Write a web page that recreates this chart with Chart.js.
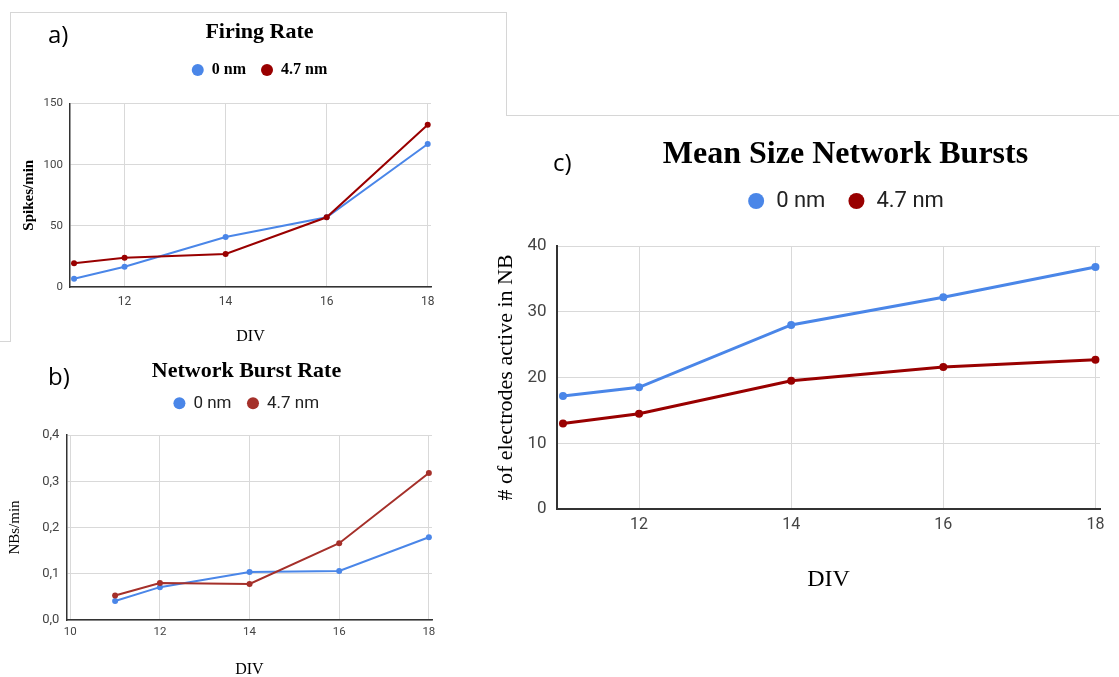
<!DOCTYPE html>
<html>
<head>
<meta charset="utf-8">
<script src="https://cdn.jsdelivr.net/npm/chart.js@4.4.1/dist/chart.umd.min.js"></script>
<style>
html, body { margin: 0; padding: 0; background: #fff; overflow: hidden; width: 1119px; height: 677px; }
canvas { position: absolute; }
.lbl { position: absolute; font-family: 'Open Sans', sans-serif; font-size: 24px; line-height: 24px; color: #000; }
.ln { position: absolute; background: #d6d6d6; }
</style>
</head>
<body>
<div class="ln" style="left:10px;top:12px;width:497px;height:1px"></div>
<div class="ln" style="left:10px;top:12px;width:1px;height:330px"></div>
<div class="ln" style="left:0px;top:341px;width:11px;height:1px"></div>
<div class="ln" style="left:506px;top:12px;width:1px;height:104px"></div>
<div class="ln" style="left:506px;top:115px;width:613px;height:1px"></div>

<canvas id="chartA" width="519" height="350" style="left:0px;top:0px"></canvas>
<canvas id="chartB" width="493" height="350" style="left:0px;top:340px"></canvas>
<canvas id="chartC" width="731" height="500" style="left:480px;top:100px"></canvas>

<div class="lbl" style="left:48px;top:22px">a)</div>
<div class="lbl" style="left:48px;top:364px">b)</div>
<div class="lbl" style="left:553px;top:150px">c)</div>

<script>
// ---------- data ----------
const divDays = [11, 12, 14, 16, 18];
const seriesNames = ['0 nm', '4.7 nm'];

const firingRate0  = [6.8, 16.6, 40.9, 57.0, 116.9];
const firingRate47 = [19.4, 24.0, 27.0, 57.0, 132.7];

const burstRate0  = [0.041, 0.071, 0.104, 0.106, 0.179];
const burstRate47 = [0.053, 0.080, 0.078, 0.166, 0.318];

const burstSize0  = [17.2, 18.5, 28.0, 32.2, 36.8];
const burstSize47 = [13.0, 14.5, 19.5, 21.6, 22.7];

const xTicksA = [12, 14, 16, 18];
const xTicksB = [10, 12, 14, 16, 18];
const xTicksC = [12, 14, 16, 18];

const yTicksA = [0, 50, 100, 150];
const yTickLabelsA = ['0', '50', '100', '150'];
const yTicksB = [0, 0.1, 0.2, 0.3, 0.4];
const yTickLabelsB = ['0,0', '0,1', '0,2', '0,3', '0,4'];
const yTicksC = [0, 10, 20, 30, 40];
const yTickLabelsC = ['0', '10', '20', '30', '40'];

// ---------- styling ----------
const SERIF = "'Liberation Serif', 'Times New Roman', serif";
const SANS = "Roboto, 'Liberation Sans', Arial, sans-serif";
const BLUE = '#4a86e8';
const GRID = '#d9d9d9';
const AXIS = '#333333';
const TICK = '#444444';

Chart.defaults.font.family = SANS;

function build(id, p) {
  const pts = arr => divDays.map((d, i) => ({ x: d, y: arr[i] }));
  const ds = (label, arr, color, order) => ({
    label, data: pts(arr),
    borderColor: color, backgroundColor: color,
    pointBackgroundColor: color, pointBorderColor: color, pointBorderWidth: 0,
    borderWidth: p.lineW, pointRadius: p.ptR, pointHoverRadius: p.ptR,
    tension: 0, order
  });
  return new Chart(document.getElementById(id), {
    type: 'line',
    data: { datasets: [ds(seriesNames[0], p.s0, BLUE, 1), ds(seriesNames[1], p.s1, p.red, 0)] },
    options: {
      responsive: false,
      animation: false,
      events: [],
      layout: { padding: 0 },
      plugins: {
        title: {
          display: true, text: p.title, color: '#000',
          font: { family: SERIF, weight: 'bold', size: p.titleSize, lineHeight: 1.2 },
          padding: { top: p.titlePadT, bottom: p.titlePadB }
        },
        legend: {
          display: true, position: 'top',
          labels: {
            usePointStyle: true, pointStyle: 'circle',
            boxWidth: p.boxW, boxHeight: p.dotR * Math.SQRT2,
            padding: p.legPad, color: p.legColor, font: p.legFont,
            sort: (a, b) => a.datasetIndex - b.datasetIndex
          }
        },
        subtitle: {
          display: true, text: '', weight: 500,
          font: { size: 10, lineHeight: 1.2 },
          padding: { top: 0, bottom: p.gap }
        },
        tooltip: { enabled: false }
      },
      scales: {
        x: {
          type: 'linear', min: p.xMin, max: p.xMax,
          afterBuildTicks: s => { s.ticks = p.xTicks.map(v => ({ value: v })); },
          afterFit: s => { s.height = p.xH; s.paddingRight = p.padR; },
          ticks: {
            autoSkip: false, maxRotation: 0, minRotation: 0,
            padding: p.xTickPad, color: TICK,
            font: { family: SANS, size: p.xTickSize },
            callback: v => String(v)
          },
          grid: { color: GRID, lineWidth: 1, drawTicks: false },
          border: { color: AXIS, width: p.axisW },
          title: {
            display: true, text: 'DIV', color: '#000',
            font: { family: SERIF, size: p.divSize, lineHeight: 1.2 },
            padding: { top: 0, bottom: p.divPadB }
          }
        },
        y: {
          type: 'linear', min: p.yTicks[0], max: p.yTicks[p.yTicks.length - 1],
          afterBuildTicks: s => { s.ticks = p.yTicks.map(v => ({ value: v })); },
          afterFit: s => { s.width = p.yW; },
          ticks: {
            padding: p.yTickPad, color: TICK,
            font: { family: SANS, size: p.yTickSize },
            callback: (v, i) => p.yLabels[i]
          },
          grid: { color: GRID, lineWidth: 1, drawTicks: false },
          border: { color: AXIS, width: p.axisW },
          title: {
            display: true, text: p.yTitle, color: '#000',
            font: { family: SERIF, size: p.yTitleSize, weight: p.yTitleWeight, lineHeight: 1.2 },
            padding: { top: p.yTitlePadT, bottom: 0 }
          }
        }
      }
    }
  });
}

// a) Firing Rate
build('chartA', {
  s0: firingRate0, s1: firingRate47, red: '#990000',
  title: 'Firing Rate', titleSize: 22, titlePadT: 18.8, titlePadB: 1.8,
  boxW: 12, dotR: 6, legPad: 15, legColor: '#000',
  legFont: { family: SERIF, size: 16, weight: 'bold' },
  gap: 3.5,
  xMin: 10.92, xMax: 18.065, xTicks: xTicksA, xH: 63, padR: 88,
  xTickPad: 7.5, xTickSize: 12, divSize: 16, divPadB: 3.7,
  yTicks: yTicksA, yLabels: yTickLabelsA, yW: 70, yTickPad: 7, yTickSize: 11.5,
  yTitle: 'Spikes/min', yTitleSize: 15, yTitleWeight: 'bold', yTitlePadT: 20.5,
  lineW: 2, ptR: 3, axisW: 1.5
});

// b) Network Burst Rate
build('chartB', {
  s0: burstRate0, s1: burstRate47, red: '#a5302a',
  title: 'Network Burst Rate', titleSize: 22, titlePadT: 18.5, titlePadB: -6.1,
  boxW: 11, dotR: 6, legPad: 16, legColor: '#222',
  legFont: { family: SANS, size: 17 },
  gap: 1.2,
  xMin: 9.92, xMax: 18.07, xTicks: xTicksB, xH: 70, padR: 61,
  xTickPad: 5.4, xTickSize: 11.5, divSize: 16, divPadB: 10.4,
  yTicks: yTicksB, yLabels: yTickLabelsB, yW: 66.7, yTickPad: 7.4, yTickSize: 13,
  yTitle: 'NBs/min', yTitleSize: 15, yTitleWeight: 'normal', yTitlePadT: 6,
  lineW: 2, ptR: 3, axisW: 1.5
});

// c) Mean Size Network Bursts
build('chartC', {
  s0: burstSize0, s1: burstSize47, red: '#990000',
  title: 'Mean Size Network Bursts', titleSize: 32, titlePadT: 35.8, titlePadB: -6.2,
  boxW: 18, dotR: 8, legPad: 22, legColor: '#222',
  legFont: { family: SANS, size: 22 },
  gap: 12,
  xMin: 10.924, xMax: 18.06, xTicks: xTicksC, xH: 91, padR: 111,
  xTickPad: 6.4, xTickSize: 16, divSize: 24, divPadB: 5.6,
  yTicks: yTicksC, yLabels: yTickLabelsC, yW: 77.2, yTickPad: 10.6, yTickSize: 17,
  yTitle: '# of electrodes active in NB', yTitleSize: 22, yTitleWeight: 'normal', yTitlePadT: 13.5,
  lineW: 3, ptR: 4, axisW: 2
});
</script>
</body>
</html>
